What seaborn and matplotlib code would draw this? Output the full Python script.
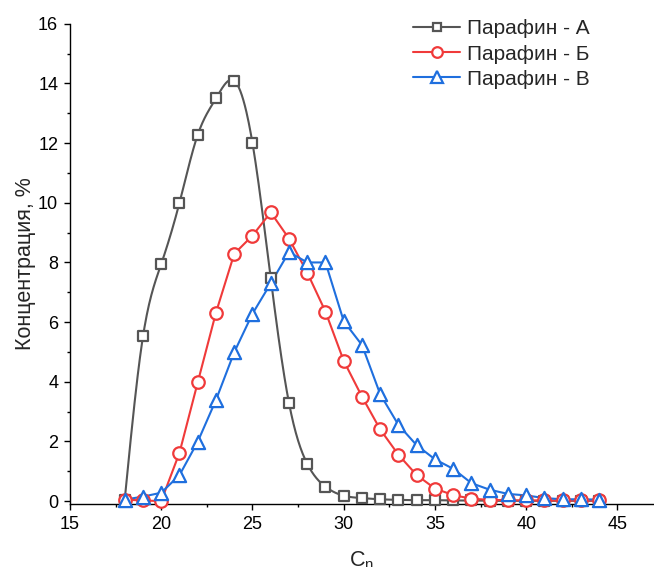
import numpy as np
import pandas as pd
import seaborn as sns
import matplotlib
matplotlib.use("Agg")
import matplotlib.pyplot as plt
from matplotlib.lines import Line2D
from matplotlib.ticker import MultipleLocator

# Carbon number axis
carbon = list(range(18, 45))

# Concentration, % for each paraffin sample
paraffin_a = [0.05, 5.52, 7.95, 10.0, 12.28, 13.5, 14.09, 12.0, 7.47, 3.29,
              1.25, 0.48, 0.18, 0.10, 0.06, 0.04, 0.03, 0.03, 0.02, 0.02,
              0.01, 0.01, 0.01, 0.01, 0.01, 0.01, 0.01]
paraffin_b = [0.05, 0.02, 0.0, 1.62, 3.98, 6.32, 8.29, 8.90, 9.68, 8.80,
              7.66, 6.35, 4.70, 3.50, 2.40, 1.55, 0.87, 0.42, 0.20, 0.08,
              0.04, 0.03, 0.02, 0.02, 0.02, 0.02, 0.02]
paraffin_c = [0.05, 0.15, 0.28, 0.87, 1.99, 3.39, 4.99, 6.28, 7.30, 8.35,
              8.00, 8.00, 6.03, 5.23, 3.58, 2.55, 1.87, 1.40, 1.08, 0.60,
              0.38, 0.24, 0.19, 0.10, 0.06, 0.06, 0.05]

labels = ["Парафин - А", "Парафин - Б", "Парафин - В"]
colors = ["#555555", "#f03a3a", "#1f6fde"]
markers = ["s", "o", "^"]
marker_sizes = [7.5, 9.0, 9.5]
smooth = [True, False, False]


def natural_spline(x, y, per_seg=24):
    """Smooth connecting curve through the points (natural cubic spline)."""
    x = np.asarray(x, float)
    y = np.asarray(y, float)
    n = len(x)
    h = np.diff(x)
    m = np.zeros(n)
    A = np.zeros((n - 2, n - 2))
    rhs = np.zeros(n - 2)
    for i in range(n - 2):
        A[i, i] = 2 * (h[i] + h[i + 1])
        if i + 1 < n - 2:
            A[i, i + 1] = h[i + 1]
            A[i + 1, i] = h[i + 1]
        rhs[i] = 6 * ((y[i + 2] - y[i + 1]) / h[i + 1] - (y[i + 1] - y[i]) / h[i])
    m[1:-1] = np.linalg.solve(A, rhs)
    xs, ys = [], []
    for i in range(n - 1):
        t = np.linspace(x[i], x[i + 1], per_seg, endpoint=(i == n - 2))
        a = x[i + 1] - t
        b = t - x[i]
        s = (m[i] * a ** 3 + m[i + 1] * b ** 3) / (6 * h[i]) \
            + (y[i] / h[i] - m[i] * h[i] / 6) * a \
            + (y[i + 1] / h[i] - m[i + 1] * h[i] / 6) * b
        xs.append(t)
        ys.append(s)
    return np.concatenate(xs), np.concatenate(ys)


sns.set_style("ticks")
plt.rcParams["font.family"] = ["Liberation Sans", "DejaVu Sans"]
plt.rcParams["mathtext.fontset"] = "custom"
plt.rcParams["mathtext.rm"] = "Liberation Sans"

fig = plt.figure(figsize=(6.54, 5.67), dpi=100)
ax = fig.add_axes([0.107, 0.111, 0.893, 0.847])

series = [paraffin_a, paraffin_b, paraffin_c]
handles = []
for vals, lab, col, mk, ms, sm in zip(series, labels, colors, markers,
                                      marker_sizes, smooth):
    if sm:
        sx, sy = natural_spline(carbon, vals)
    else:
        sx, sy = np.asarray(carbon, float), np.asarray(vals, float)
    curve = pd.DataFrame({"Cn": sx, "conc": sy})
    sns.lineplot(data=curve, x="Cn", y="conc", ax=ax, color=col, lw=1.5,
                 sort=False, estimator=None, zorder=2)
    pts = pd.DataFrame({"Cn": carbon, "conc": vals})
    sc = sns.scatterplot(data=pts, x="Cn", y="conc", ax=ax, marker=mk,
                         s=ms ** 2, facecolor="white", edgecolor=col,
                         linewidth=1.6, zorder=3)
    sc.collections[-1].set_clip_on(False)
    handles.append(Line2D([], [], color=col, lw=1.5, marker=mk,
                          markersize=ms * 0.85, markerfacecolor="white",
                          markeredgecolor=col, markeredgewidth=1.6))

ax.set_xlim(15, 47)
ax.set_ylim(-0.1, 16)
ax.xaxis.set_major_locator(MultipleLocator(5))
ax.xaxis.set_minor_locator(MultipleLocator(2.5))
ax.yaxis.set_major_locator(MultipleLocator(2))
ax.yaxis.set_minor_locator(MultipleLocator(1))
ax.tick_params(which="major", direction="out", length=4, width=1,
               labelsize=13, color="black", labelcolor="black", pad=4.5)
ax.tick_params(which="minor", direction="out", length=2.5, width=1, color="black")

for side in ("top", "right"):
    ax.spines[side].set_visible(False)
for side in ("left", "bottom"):
    ax.spines[side].set_linewidth(1.0)
    ax.spines[side].set_color("black")

ax.set_xlabel(r"$\mathregular{C_n}$", fontsize=15.5, labelpad=12)
ax.set_ylabel("Концентрация, %", fontsize=15.5, labelpad=1.5)

fig.legend(handles, labels, loc="upper left",
           bbox_to_anchor=(0.6315, 0.966), frameon=False, fontsize=15,
           handlelength=2.26, handletextpad=0.34, labelspacing=0.3,
           borderpad=0, borderaxespad=0)

fig.savefig("out.png", dpi=100)
